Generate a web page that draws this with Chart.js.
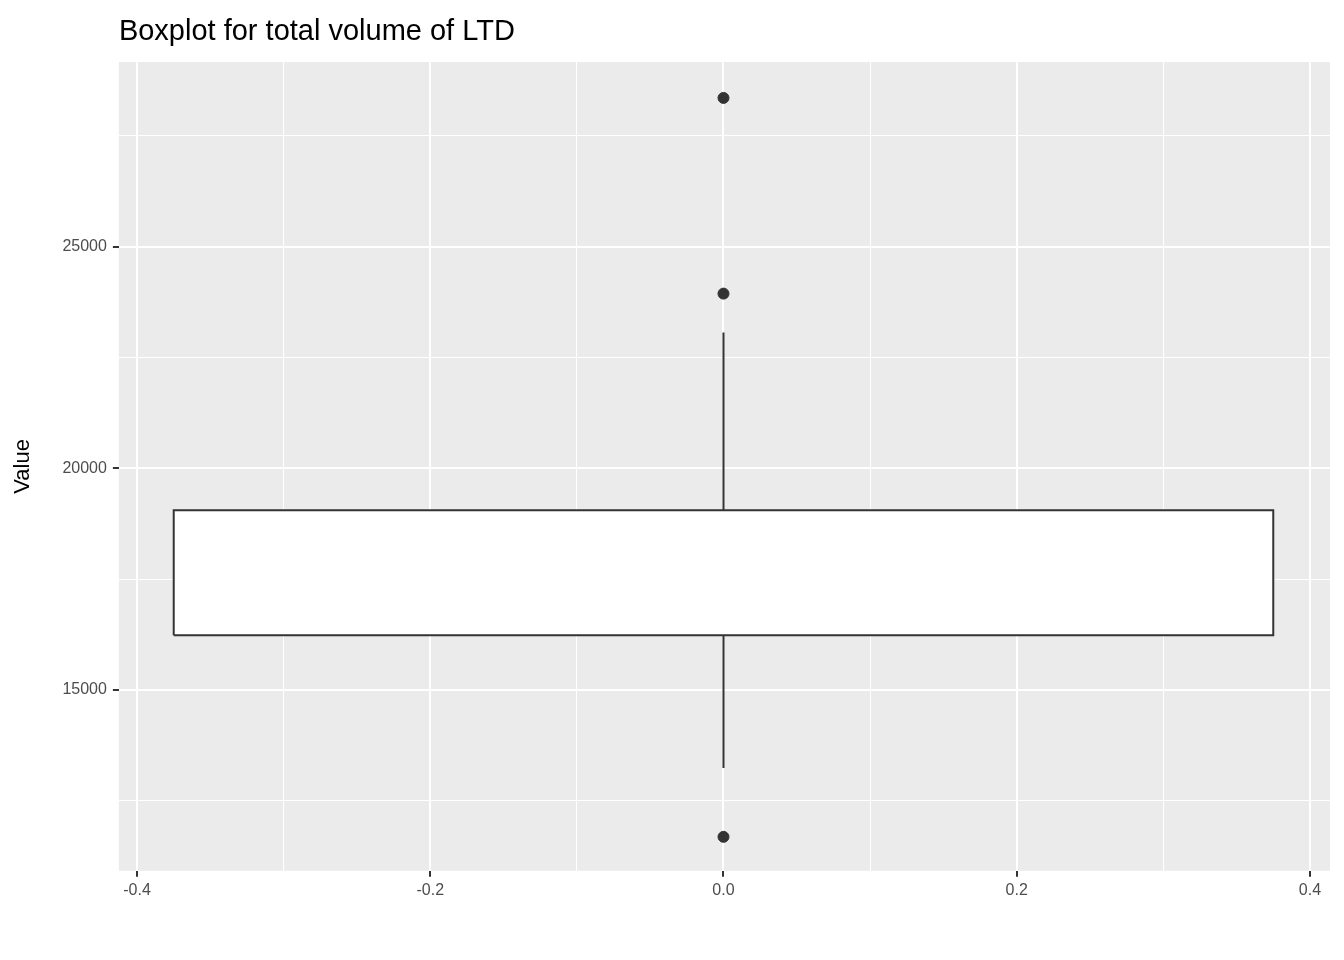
<!DOCTYPE html>
<html>
<head>
<meta charset="utf-8">
<script src="https://cdn.jsdelivr.net/npm/chart.js@4"></script>
<style>
  html, body { margin: 0; padding: 0; background: #fff; }
  #wrap { width: 1344px; height: 960px; }
</style>
</head>
<body>
<div id="wrap"><canvas id="box" width="1344" height="960"></canvas></div>
<script>
// Boxplot summary
const boxStats = { q1: 16239, median: 17568, q3: 19054, whiskerLow: 13243, whiskerHigh: 23063 };
const boxHalfWidth = 0.375;
const outliers = [28356, 23942, 11690];
const chartTitle = 'Boxplot for total volume of LTD';

const xTicks = [-0.4, -0.3, -0.2, -0.1, 0.0, 0.1, 0.2, 0.3, 0.4];
const xMajor = [-0.4, -0.2, 0.0, 0.2, 0.4];
const yTicks = [12500, 15000, 17500, 20000, 22500, 25000, 27500];
const yMajor = [15000, 20000, 25000];

const isMajor = (list, v) => list.some(m => Math.abs(m - v) < 1e-6);

// grey panel + title aligned to the panel edge, ggplot style
const panelBg = {
  id: 'panelBg',
  beforeDraw(chart) {
    const a = chart.chartArea, ctx = chart.ctx;
    ctx.save();
    ctx.fillStyle = '#EBEBEB';
    ctx.fillRect(a.left, a.top, a.right - a.left, a.bottom - a.top);
    ctx.fillStyle = '#000';
    ctx.font = '29px "Liberation Sans", Arial, sans-serif';
    ctx.textBaseline = 'alphabetic';
    ctx.fillText(chartTitle, a.left, 40);
    ctx.restore();
  }
};

const b = boxStats, w = boxHalfWidth;
const line = (pts, width, extra) => Object.assign({
  type: 'line', data: pts, borderColor: '#333333', borderWidth: width,
  pointRadius: 0, showLine: true, tension: 0, fill: false
}, extra || {});

new Chart(document.getElementById('box'), {
  type: 'scatter',
  data: {
    datasets: [
      line([{x: 0, y: b.q3}, {x: 0, y: b.whiskerHigh}], 2),
      line([{x: 0, y: b.q1}, {x: 0, y: b.whiskerLow}], 2),
      line([{x: -w, y: b.q1}, {x: w, y: b.q1}, {x: w, y: b.q3}, {x: -w, y: b.q3}, {x: -w, y: b.q1}], 2,
           { fill: 'shape', backgroundColor: '#FFFFFF' }),
      line([{x: -w, y: b.median}, {x: w, y: b.median}], 4),
      { type: 'scatter', data: outliers.map(v => ({x: 0, y: v})), backgroundColor: '#333333',
        borderColor: '#333333', pointRadius: 5.5 }
    ]
  },
  options: {
    responsive: false,
    animation: false,
    devicePixelRatio: 1,
    layout: { padding: { left: 10, right: 14, top: 62, bottom: 56 } },
    plugins: {
      legend: { display: false },
      tooltip: { enabled: false },
      title: { display: false }
    },
    scales: {
      x: {
        type: 'linear', min: -0.4124, max: 0.4137,
        afterBuildTicks: s => { s.ticks = xTicks.map(v => ({ value: v })); },
        border: { display: false },
        grid: {
          color: '#FFFFFF',
          lineWidth: c => isMajor(xMajor, c.tick.value) ? 2 : 1,
          tickColor: c => isMajor(xMajor, c.tick.value) ? '#333333' : 'rgba(0,0,0,0)',
          tickLength: 6, drawTicks: true
        },
        ticks: {
          color: '#4D4D4D', font: { family: 'Liberation Sans', size: 16 }, autoSkip: false,
          maxRotation: 0, padding: 4,
          callback: v => isMajor(xMajor, v) ? v.toFixed(1) : ''
        }
      },
      y: {
        min: 10924, max: 29166,
        afterBuildTicks: s => { s.ticks = yTicks.map(v => ({ value: v })); },
        border: { display: false },
        grid: {
          color: '#FFFFFF',
          lineWidth: c => isMajor(yMajor, c.tick.value) ? 2 : 1,
          tickColor: c => isMajor(yMajor, c.tick.value) ? '#333333' : 'rgba(0,0,0,0)',
          tickLength: 6
        },
        ticks: {
          color: '#4D4D4D', font: { family: 'Liberation Sans', size: 16 }, autoSkip: false,
          padding: 6,
          callback: v => isMajor(yMajor, v) ? String(v) : ''
        },
        title: {
          display: true, text: 'Value', color: '#000',
          font: { family: 'Liberation Sans', size: 22 }, padding: { top: 0, bottom: 20 }
        }
      }
    }
  },
  plugins: [panelBg]
});
</script>
</body>
</html>
